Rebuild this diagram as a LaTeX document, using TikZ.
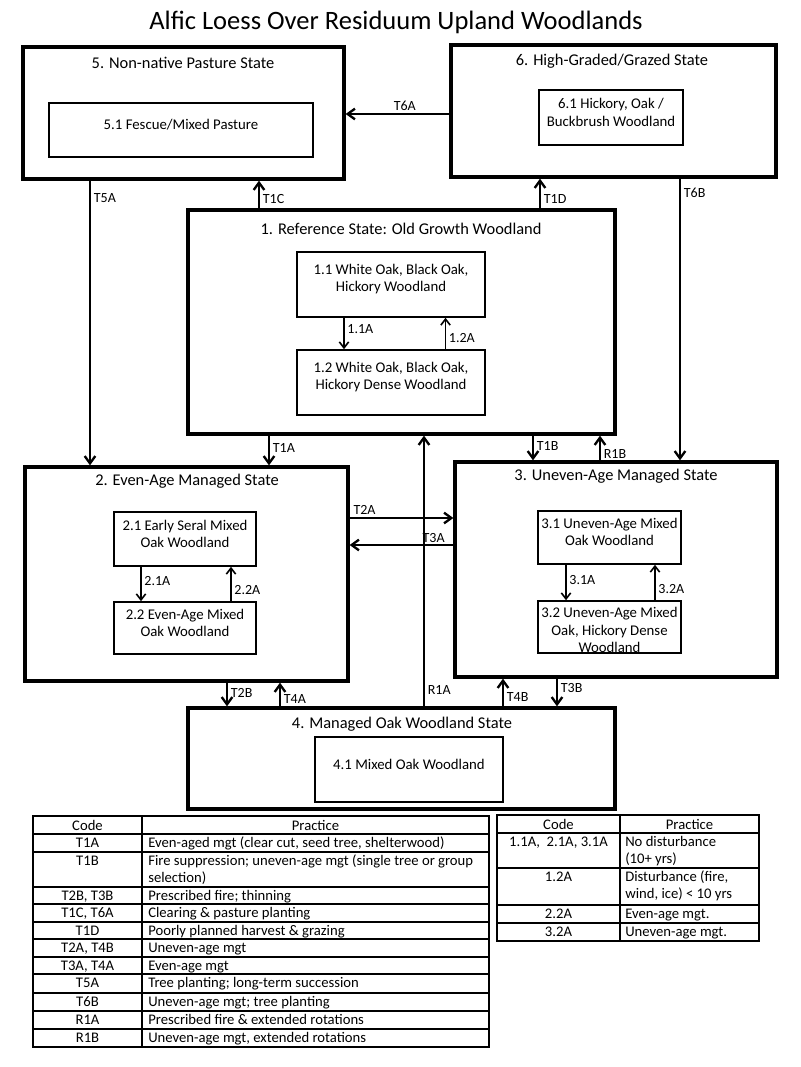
\documentclass[tikz,border=0pt]{standalone}
\usepackage{fontspec}
\setmainfont{Carlito}
\usetikzlibrary{positioning,fit,arrows.meta}

\newcommand{\titlefont}{\fontsize{19.9}{23}\selectfont}
\newcommand{\statefont}{\fontsize{12.3}{14}\selectfont}
\newcommand{\subfont}{\fontsize{11.1}{13}\selectfont}
\newcommand{\labfont}{\fontsize{10.5}{12}\selectfont}
\newcommand{\tabfont}{\fontsize{11}{12.9}\selectfont}

\tikzset{
statebox/.style={draw, line width=2.5pt, inner sep=0pt},
subbox/.style={draw, line width=1.2pt, inner sep=0pt, align=center, font=\subfont},
subtxt/.style={inner sep=0pt, align=center, font=\subfont},
stitle/.style={font=\statefont, inner sep=0pt},
trans/.style={draw, line width=1.75pt, -{Straight Barb[length=5.5pt,width=8pt]}},
pathway/.style={draw, line width=1.2pt, -{Straight Barb[length=4.5pt,width=7pt]}},
tlab/.style={font=\labfont, inner sep=2pt},
cell/.style={font=\tabfont, inner sep=0pt, align=left},
grid/.style={line width=1pt}
}

\begin{document}
\begin{tikzpicture}[x=0.75pt,y=-0.75pt]
\useasboundingbox (0,0) rectangle (800,1067);
\node[font=\titlefont, inner sep=0pt] (title) at (396,22) {Alfic Loess Over Residuum Upland Woodlands};

% states
\node[statebox, fit={(23,47) (344,179)}] (s5) {};
\node[statebox, fit={(451,45) (776,177)}] (s6) {};
\node[statebox, fit={(188,210) (615,434)}] (s1) {};
\node[statebox, fit={(25,467) (348,681)}] (s2) {};
\node[statebox, fit={(455,462) (777,677)}] (s3) {};
\node[statebox, fit={(188,708) (615,809)}] (s4) {};
\node[stitle] (s5t) at (183,63) {5. Non-native Pasture State};
\node[stitle] (s6t) at (612,61) {6. High-Graded/Grazed State};
\node[stitle] (s1t) at (401,229) {1. Reference State: Old Growth Woodland};
\node[stitle] (s2t) at (187,481) {2. Even-Age Managed State};
\node[stitle] (s3t) at (616,476) {3. Uneven-Age Managed State};
\node[stitle] (s4t) at (402,724) {4. Managed Oak Woodland State};

% communities
\node[subbox, fit={(49,103) (313,157)}] (b51) {5.1 Fescue/Mixed Pasture};
\node[subbox, fit={(539,90) (683,145)}] (b61) {6.1 Hickory, Oak /\\Buckbrush Woodland};
\node[subbox, fit={(297,252) (485,317)}] (b11) {1.1 White Oak, Black Oak,\\Hickory Woodland};
\node[subbox, fit={(297,350) (485,415)}] (b12) {1.2 White Oak, Black Oak,\\Hickory Dense Woodland};
\node[subbox, fit={(114,512) (256,566)}] (b21) {2.1 Early Seral Mixed\\Oak Woodland};
\node[subbox, fit={(114,602) (256,654)}] (b22) {2.2 Even-Age Mixed\\Oak Woodland};
\node[subbox, fit={(538,511) (681,564)}] (b31) {};
\node[subtxt] (b31t) at ([yshift=4pt]b31.center) {3.1 Uneven-Age Mixed\\Oak Woodland};
\node[subbox, fit={(538,601) (681,653)}] (b32) {};
\node[subtxt, font=\fontsize{11.1}{13.1}\selectfont] (b32t) at ([yshift=-2.5pt]b32.center) {3.2 Uneven-Age Mixed\\Oak, Hickory Dense\\Woodland};
\node[subbox, fit={(315,737) (503,802)}] (b41) {4.1 Mixed Oak Woodland};

% x and y of the connectors
\coordinate (xT5A) at (90,0);
\coordinate (xT1C) at (259,0);
\coordinate (xT1D) at (540,0);
\coordinate (xT6B) at (680,0);
\coordinate (xT1A) at (269,0);
\coordinate (xR1A) at (424,0);
\coordinate (xT1B) at (533,0);
\coordinate (xR1B) at (600,0);
\coordinate (xT2B) at (227,0);
\coordinate (xT4A) at (280,0);
\coordinate (xT4B) at (503,0);
\coordinate (xT3B) at (557,0);
\coordinate (yT6A) at (0,114);
\coordinate (yT2A) at (0,518);
\coordinate (yT3A) at (0,545);

% transitions
\draw[trans] (s6.west |- yT6A) -- node[tlab, above, pos=0.43] (lT6A) {T6A} (s5.east |- yT6A);
\draw[trans] (s5.south -| xT5A) -- node[tlab, right, pos=0.06] (lT5A) {T5A} (s2.north -| xT5A);
\draw[trans] (s1.north -| xT1C) -- node[tlab, right, pos=0.32] (lT1C) {T1C} (s5.south -| xT1C);
\draw[trans] (s1.north -| xT1D) -- node[tlab, right, pos=0.3] (lT1D) {T1D} (s6.south -| xT1D);
\draw[trans] (s6.south -| xT6B) -- node[tlab, right, pos=0.05] (lT6B) {T6B} (s3.north -| xT6B);
\draw[trans] (s1.south -| xT1A) -- node[tlab, right, pos=0.42] (lT1A) {T1A} (s2.north -| xT1A);
\draw[trans] (s1.south -| xT1B) -- node[tlab, right, pos=0.43] (lT1B) {T1B} (s3.north -| xT1B);
\draw[trans] (s3.north -| xR1B) -- node[tlab, right, pos=0.25] (lR1B) {R1B} (s1.south -| xR1B);
\draw[trans] (s4.north -| xR1A) -- node[tlab, right, pos=0.06] (lR1A) {R1A} (s1.south -| xR1A);
\draw[trans] (s2.east |- yT2A) -- node[tlab, above right, pos=0] (lT2A) {T2A} (s3.west |- yT2A);
\draw[trans] (s3.west |- yT3A) -- node[tlab, above left, inner sep=1pt, pos=0.06] (lT3A) {T3A} (s2.east |- yT3A);
\draw[trans] (s2.south -| xT2B) -- node[tlab, right, pos=0.45] (lT2B) {T2B} (s4.north -| xT2B);
\draw[trans] (s4.north -| xT4A) -- node[tlab, right, pos=0.3] (lT4A) {T4A} (s2.south -| xT4A);
\draw[trans] (s4.north -| xT4B) -- node[tlab, right, pos=0.35] (lT4B) {T4B} (s3.south -| xT4B);
\draw[trans] (s3.south -| xT3B) -- node[tlab, right, pos=0.35] (lT3B) {T3B} (s4.north -| xT3B);

% community pathways
\draw[pathway] ([xshift=-0.25*188*0.75pt]b11.south) -- node[tlab, right, pos=0.36] (l11A) {1.1A} ([xshift=-0.25*188*0.75pt]b12.north);
\draw[pathway] ([xshift=0.29*188*0.75pt]b12.north) -- node[tlab, right, pos=0.36] (l12A) {1.2A} ([xshift=0.29*188*0.75pt]b11.south);
\draw[pathway] ([xshift=-44*0.75pt]b21.south) -- node[tlab, right, pos=0.42] (l21A) {2.1A} ([xshift=-44*0.75pt]b22.north);
\draw[pathway] ([xshift=46*0.75pt]b22.north) -- node[tlab, right, pos=0.33] (l22A) {2.2A} ([xshift=46*0.75pt]b21.south);
\draw[pathway] ([xshift=-43.5*0.75pt]b31.south) -- node[tlab, right, pos=0.43] (l31A) {3.1A} ([xshift=-43.5*0.75pt]b32.north);
\draw[pathway] ([xshift=45.5*0.75pt]b32.north) -- node[tlab, right, pos=0.32] (l32A) {3.2A} ([xshift=45.5*0.75pt]b31.south);

% transition table
\draw[grid] (33,816) rectangle (489,1047);
\draw[grid] (142,816) -- (142,1047);
\foreach \y in {834,852,887,904,922,939,957,974,993,1011,1029}
  \draw[grid] (33,\y) -- (489,\y);
\node[cell, anchor=base] (tc0) at (87.5,830) {Code};
\node[cell, anchor=base] (tp0) at (315.5,830) {Practice};
\foreach \y/\code/\prac/\n [count=\i] in {
  834/T1A/{Even-aged mgt (clear cut, seed tree, shelterwood)}/1,
  852/T1B/{Fire suppression; uneven-age mgt (single tree or group\\selection)}/2,
  887/{T2B, T3B}/{Prescribed fire; thinning}/1,
  904/{T1C, T6A}/{Clearing \& pasture planting}/1,
  922/T1D/{Poorly planned harvest \& grazing}/1,
  939/{T2A, T4B}/{Uneven-age mgt}/1,
  957/{T3A, T4A}/{Even-age mgt}/1,
  974/T5A/{Tree planting; long-term succession}/1,
  993/T6B/{Uneven-age mgt; tree planting}/1,
  1011/R1A/{Prescribed fire \& extended rotations}/1,
  1029/R1B/{Uneven-age mgt, extended rotations}/1}
{
  \node[cell, anchor=base] (tc\i) at (87.5,\y+13.5) {\code};
  \node[cell, anchor=base west] (tp\i) at (148,\y+13.5+\n*17.2-17.2) {\prac};
}

% pathway table
\draw[grid] (497,815) rectangle (759,941);
\draw[grid] (620,815) -- (620,941);
\foreach \y in {833,868,905,923}
  \draw[grid] (497,\y) -- (759,\y);
\node[cell, anchor=base] (pc0) at (558.5,829) {Code};
\node[cell, anchor=base] (pp0) at (689.5,829) {Practice};
\foreach \y/\code/\prac/\n [count=\i] in {
  833/{1.1A,\ \ 2.1A, 3.1A}/{No disturbance\\(10+ yrs)}/2,
  868/1.2A/{Disturbance (fire,\\wind, ice) < 10 yrs}/2,
  905/2.2A/{Even-age mgt.}/1,
  923/3.2A/{Uneven-age mgt.}/1}
{
  \node[cell, anchor=base] (pc\i) at (558.5,\y+13.5) {\code};
  \node[cell, anchor=base west] (pp\i) at (625,\y+13.5+\n*17.2-17.2) {\prac};
}
\end{tikzpicture}
\end{document}
